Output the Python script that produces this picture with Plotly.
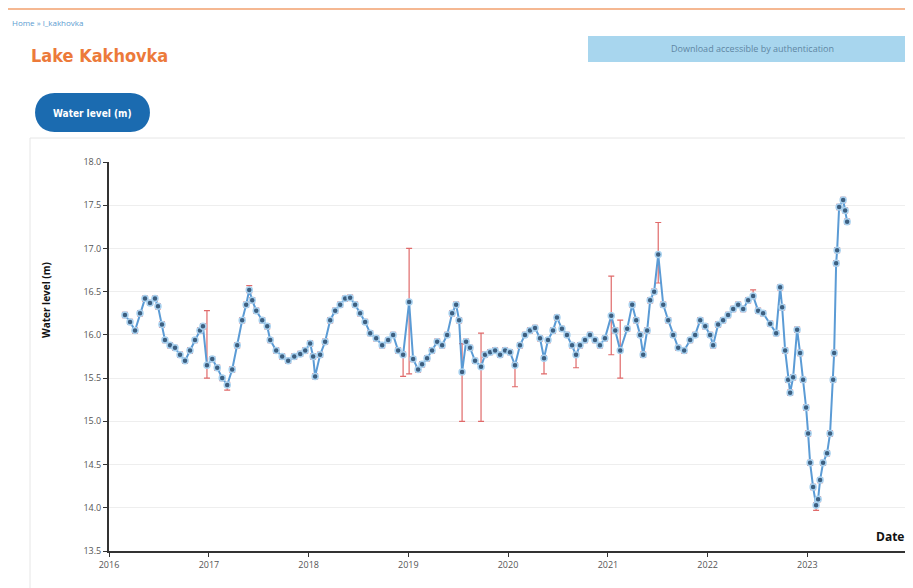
import datetime as dt
import plotly.graph_objects as go

# ---- data (decimal year, water level in m) ----
dec_years = [
    2016.160, 2016.211, 2016.261, 2016.311, 2016.361, 2016.411, 2016.461, 2016.491, 2016.531, 2016.561,
    2016.612, 2016.662, 2016.712, 2016.762, 2016.812, 2016.862, 2016.912, 2016.942, 2016.982, 2017.033,
    2017.083, 2017.133, 2017.183, 2017.233, 2017.283, 2017.333, 2017.373, 2017.404, 2017.434, 2017.474,
    2017.534, 2017.584, 2017.614, 2017.674, 2017.734, 2017.794, 2017.855, 2017.915, 2017.965, 2018.015,
    2018.045, 2018.065, 2018.115, 2018.165, 2018.216, 2018.266, 2018.316, 2018.366, 2018.416, 2018.466,
    2018.516, 2018.566, 2018.617, 2018.677, 2018.737, 2018.797, 2018.847, 2018.897, 2018.947, 2019.008,
    2019.048, 2019.098, 2019.138, 2019.188, 2019.238, 2019.289, 2019.339, 2019.389, 2019.439, 2019.479,
    2019.509, 2019.539, 2019.579, 2019.619, 2019.669, 2019.729, 2019.769, 2019.820, 2019.870, 2019.920,
    2019.970, 2020.020, 2020.070, 2020.120, 2020.170, 2020.220, 2020.271, 2020.321, 2020.361, 2020.401,
    2020.451, 2020.491, 2020.541, 2020.591, 2020.642, 2020.682, 2020.722, 2020.772, 2020.822, 2020.872,
    2020.922, 2020.972, 2021.033, 2021.073, 2021.123, 2021.193, 2021.243, 2021.283, 2021.323, 2021.353,
    2021.393, 2021.423, 2021.463, 2021.504, 2021.554, 2021.604, 2021.654, 2021.704, 2021.764, 2021.824,
    2021.874, 2021.925, 2021.975, 2022.025, 2022.055, 2022.105, 2022.155, 2022.205, 2022.256, 2022.306,
    2022.356, 2022.406, 2022.456, 2022.506, 2022.556, 2022.627, 2022.687, 2022.727, 2022.747, 2022.777,
    2022.807, 2022.827, 2022.857, 2022.897, 2022.927, 2022.957, 2022.987, 2023.008, 2023.028, 2023.058,
    2023.088, 2023.108, 2023.128, 2023.158, 2023.198, 2023.228, 2023.259, 2023.269, 2023.289, 2023.299,
    2023.319, 2023.359, 2023.379, 2023.399,
]
levels = [
    16.23, 16.15, 16.05, 16.25, 16.42, 16.37, 16.42, 16.33, 16.12, 15.94,
    15.88, 15.85, 15.77, 15.70, 15.82, 15.94, 16.05, 16.10, 15.65, 15.72,
    15.62, 15.50, 15.42, 15.60, 15.88, 16.17, 16.35, 16.52, 16.40, 16.28,
    16.17, 16.10, 15.94, 15.82, 15.75, 15.70, 15.75, 15.78, 15.82, 15.90,
    15.75, 15.52, 15.77, 15.92, 16.17, 16.28, 16.35, 16.42, 16.43, 16.35,
    16.25, 16.15, 16.02, 15.96, 15.88, 15.94, 16.00, 15.82, 15.77, 16.38,
    15.72, 15.60, 15.66, 15.73, 15.82, 15.92, 15.88, 16.00, 16.25, 16.35,
    16.17, 15.57, 15.92, 15.85, 15.70, 15.63, 15.77, 15.80, 15.82, 15.77,
    15.82, 15.80, 15.65, 15.88, 16.00, 16.05, 16.08, 15.96, 15.73, 15.94,
    16.05, 16.20, 16.07, 16.00, 15.88, 15.77, 15.88, 15.94, 16.00, 15.94,
    15.88, 15.96, 16.22, 16.05, 15.82, 16.07, 16.35, 16.17, 16.00, 15.77,
    16.05, 16.40, 16.50, 16.93, 16.35, 16.17, 16.00, 15.85, 15.82, 15.94,
    16.00, 16.17, 16.10, 16.00, 15.88, 16.12, 16.17, 16.23, 16.30, 16.35,
    16.30, 16.40, 16.45, 16.28, 16.25, 16.13, 16.02, 16.55, 16.32, 15.82,
    15.48, 15.33, 15.51, 16.06, 15.79, 15.48, 15.16, 14.86, 14.52, 14.24,
    14.03, 14.10, 14.32, 14.52, 14.63, 14.86, 15.48, 15.79, 16.83, 16.98,
    17.48, 17.56, 17.44, 17.31,
]
# typical uncertainty and the larger uncertainties visible in the picture
default_err = 0.03
big_err_years = [2016.982, 2017.183, 2017.404, 2018.947, 2019.008, 2019.539, 2019.729,
                 2020.070, 2020.361, 2020.682, 2021.033, 2021.123, 2021.504, 2022.456, 2023.088]
big_err_plus = [0.63, 0.03, 0.05, 0.03, 0.62, 0.33, 0.39, 0.03, 0.03, 0.03, 0.46, 0.35, 0.37, 0.07, 0.03]
big_err_minus = [0.15, 0.06, 0.03, 0.25, 0.83, 0.57, 0.63, 0.25, 0.18, 0.15, 0.45, 0.32, 0.33, 0.03, 0.06]

y_ticks = [13.5, 14.0, 14.5, 15.0, 15.5, 16.0, 16.5, 17.0, 17.5, 18.0]
x_tick_years = [2016, 2017, 2018, 2019, 2020, 2021, 2022, 2023, 2024]


def to_date(d):
    y = int(d)
    return dt.datetime(y, 1, 1) + dt.timedelta(days=(d - y) * 365.25)


dates = [to_date(d) for d in dec_years]
plus_map = dict(zip(big_err_years, big_err_plus))
minus_map = dict(zip(big_err_years, big_err_minus))
err_plus = [plus_map.get(d, default_err) for d in dec_years]
err_minus = [minus_map.get(d, default_err) for d in dec_years]

# ---- geometry (page has an 8px body margin) ----
OFF = 8
W, H = 913 - OFF, 588 - OFF
L, R, T, B = 101, 6, 154, 37
PW, PH = W - L - R, H - T - B


def px(x):  # page pixel -> paper
    return (x - OFF - L) / PW


def py(y):  # page pixel -> paper
    return (H - B - (y - OFF)) / PH


fig = go.Figure()
fig.add_trace(go.Scatter(
    x=dates, y=levels, mode="lines+markers",
    line=dict(color="#5b9bd5", width=2),
    marker=dict(size=6, color="#3d5f80", line=dict(color="#a9d2f0", width=1.5)),
    error_y=dict(type="data", symmetric=False, array=err_plus, arrayminus=err_minus,
                 color="#e06a6a", thickness=1.2, width=3),
    showlegend=False,
))

tickfont = dict(family="Open Sans, DejaVu Sans, sans-serif", size=9, color="#555")
fig.update_xaxes(
    type="date", range=[dt.datetime(2016, 1, 1), dt.datetime(2024, 1, 1)],
    tickvals=[dt.datetime(y, 1, 1) for y in x_tick_years],
    ticktext=[str(y) for y in x_tick_years],
    showline=True, linecolor="#333", linewidth=2, ticks="outside", ticklen=4,
    tickcolor="#333", showgrid=False, zeroline=False, tickfont=tickfont,
)
fig.update_yaxes(
    range=[13.5, 18.0], tickvals=y_ticks, ticktext=[f"{v:.1f}" for v in y_ticks],
    showline=True, linecolor="#333", linewidth=2, ticks="outside", ticklen=4,
    tickcolor="#333", showgrid=True, gridcolor="#eeeeee", zeroline=False, tickfont=tickfont,
)

condensed = "Liberation Sans Narrow, DejaVu Sans Condensed, Roboto, sans-serif"
shapes = [
    # top orange rule
    dict(type="line", xref="paper", yref="paper", x0=px(OFF), x1=px(913), y0=py(9), y1=py(9),
         line=dict(color="#f2a06e", width=1.5)),
    # download bar
    dict(type="rect", xref="paper", yref="paper", x0=px(588), x1=px(913), y0=py(62), y1=py(36),
         fillcolor="#a8d6ee", line=dict(width=0), layer="below"),
    # chart card border
    dict(type="rect", xref="paper", yref="paper", x0=px(30), x1=px(914), y0=py(600), y1=py(138),
         fillcolor="rgba(0,0,0,0)", line=dict(color="#e6e6e6", width=1), layer="below"),
]
# pill button
bx0, bx1, by0, by1 = 35, 150, 93, 132
r = (by1 - by0) / 2
path = (f"M {px(bx0 + r)},{py(by0)} L {px(bx1 - r)},{py(by0)} "
        f"C {px(bx1 + r * 0.33)},{py(by0)} {px(bx1 + r * 0.33)},{py(by1)} {px(bx1 - r)},{py(by1)} "
        f"L {px(bx0 + r)},{py(by1)} "
        f"C {px(bx0 - r * 0.33)},{py(by1)} {px(bx0 - r * 0.33)},{py(by0)} {px(bx0 + r)},{py(by0)} Z")
shapes.append(dict(type="path", xref="paper", yref="paper", path=path,
                   fillcolor="#1b6bb0", line=dict(width=0)))

annotations = [
    dict(text="Home » l_kakhovka", x=px(10), y=py(22), xref="paper", yref="paper",
         xanchor="left", yanchor="middle", showarrow=False,
         font=dict(family="Open Sans, sans-serif", size=8, color="#5a9bd0")),
    dict(text="<b>Lake Kakhovka</b>", x=px(29), y=py(56), xref="paper", yref="paper",
         xanchor="left", yanchor="middle", showarrow=False,
         font=dict(family=condensed, size=18, color="#ec7a3a")),
    dict(text="<b>Water level (m)</b>", x=px(92), y=py(113), xref="paper", yref="paper",
         xanchor="center", yanchor="middle", showarrow=False,
         font=dict(family=condensed, size=10, color="white")),
    dict(text="Download accessible by authentication", x=px(752), y=py(49), xref="paper", yref="paper",
         xanchor="center", yanchor="middle", showarrow=False,
         font=dict(family="Open Sans, sans-serif", size=9, color="#5f86a3")),
    dict(text="<b>Water level (m)</b>", x=px(46), y=py(300), xref="paper", yref="paper",
         xanchor="center", yanchor="middle", showarrow=False, textangle=-90,
         font=dict(family="Open Sans, DejaVu Sans, sans-serif", size=10, color="#111")),
    dict(text="<b>Date</b>", x=px(906), y=py(536), xref="paper", yref="paper",
         xanchor="right", yanchor="middle", showarrow=False,
         font=dict(family="Open Sans, DejaVu Sans, sans-serif", size=12, color="#111")),
]

fig.update_layout(
    width=W, height=H, margin=dict(l=L, r=R, t=T, b=B),
    paper_bgcolor="white", plot_bgcolor="white",
    shapes=shapes, annotations=annotations,
)
fig.write_html("out.html")
